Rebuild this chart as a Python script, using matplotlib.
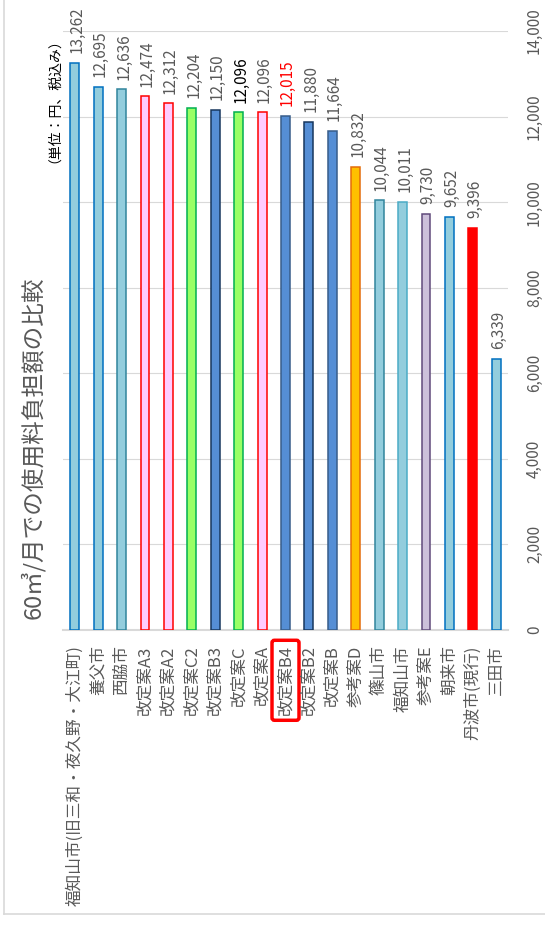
import matplotlib.pyplot as plt
from matplotlib.lines import Line2D

plt.rcParams['font.family'] = ['Noto Sans CJK JP', 'DejaVu Sans']

# 60m3/月での使用料負担額（円、税込み）
categories = ['福知山市(旧三和・夜久野・大江町)', '養父市', '西脇市', '改定案A3', '改定案A2',
              '改定案C2', '改定案B3', '改定案C', '改定案A', '改定案B4', '改定案B2', '改定案B',
              '参考案D', '篠山市', '福知山市', '参考案E', '朝来市', '丹波市(現行)', '三田市']
values = [13262, 12695, 12636, 12474, 12312, 12204, 12150, 12096, 12096, 12015,
          11880, 11664, 10832, 10044, 10011, 9730, 9652, 9396, 6339]
yticks = [0, 2000, 4000, 6000, 8000, 10000, 12000, 14000]

fills = ['#93CDDD', '#93CDDD', '#93CDDD', '#FFCCFF', '#FFCCFF',
         '#99FF66', '#558ED5', '#99FF66', '#FFCCFF', '#558ED5', '#558ED5', '#558ED5',
         '#FFC000', '#93CDDD', '#93CDDD', '#CCC0DA', '#93CDDD', '#FF0000', '#93CDDD']
edges = ['#0070C0', '#0070C0', '#31859C', '#FF0000', '#FF0000',
         '#00B050', '#17375E', '#00B050', '#FF0000', '#385D8A', '#17375E', '#385D8A',
         '#E46C0A', '#31859C', '#4BACC6', '#604A7B', '#0070C0', '#FF0000', '#0070C0']
label_colors = ['#595959'] * len(values)
label_colors[7] = '#000000'
label_colors[9] = '#FF0000'
highlight = 9

fig = plt.figure(figsize=(5.45, 9.27), dpi=100)
ax = fig.add_axes([63 / 545, 297 / 927, 445 / 545, 599 / 927])

x = range(len(categories))
ax.bar(x, values, width=0.38, color=fills, edgecolor=edges, linewidth=1.1, zorder=3)

for i, v in enumerate(values):
    ax.annotate(f'{v:,}', (i, v), xytext=(1.5, 7), textcoords='offset points',
                rotation=90, ha='center', va='bottom', fontsize=11,
                color=label_colors[i])

ax.set_xlim(-0.5, len(categories) - 0.5)
ax.set_ylim(0, 14000)
ax.set_yticks(yticks)
ax.set_yticklabels([f'{t:,}' for t in yticks], rotation=90, va='center')
ax.yaxis.tick_right()
ax.tick_params(axis='y', length=0, pad=13, labelsize=11, labelcolor='#595959')
ax.set_xticks(list(x))
ax.set_xticklabels(categories, rotation=90, ha='center', va='top')
ax.tick_params(axis='x', length=0, pad=11, labelsize=12, labelcolor='#595959')
ax.grid(axis='y', color='#D9D9D9', linewidth=0.8, zorder=0)
for s in ['top', 'left', 'right']:
    ax.spines[s].set_visible(False)
ax.spines['bottom'].set_color('#D9D9D9')
ax.spines['bottom'].set_linewidth(1.5)

# 赤枠で強調する案
ax.get_xticklabels()[highlight].set_bbox(
    dict(boxstyle='round,pad=0.3,rounding_size=0.15', fc='none', ec='#FF0000', lw=2.5))

fig.text(33 / 545, 0.517, '60㎥/月での使用料負担額の比較', rotation=90,
         ha='center', va='center', fontsize=17, color='#595959')
fig.text(47 / 545, 0.899, '（単位：円、税込み）', rotation=90,
         ha='center', va='center', fontsize=10, color='#000000')

# 外枠
fig.add_artist(Line2D([4 / 545, 4 / 545], [13 / 927, 1], color='#D9D9D9', lw=1.2))
fig.add_artist(Line2D([4 / 545, 1], [13 / 927, 13 / 927], color='#D9D9D9', lw=1.2))

fig.savefig('out.png', dpi=100)
